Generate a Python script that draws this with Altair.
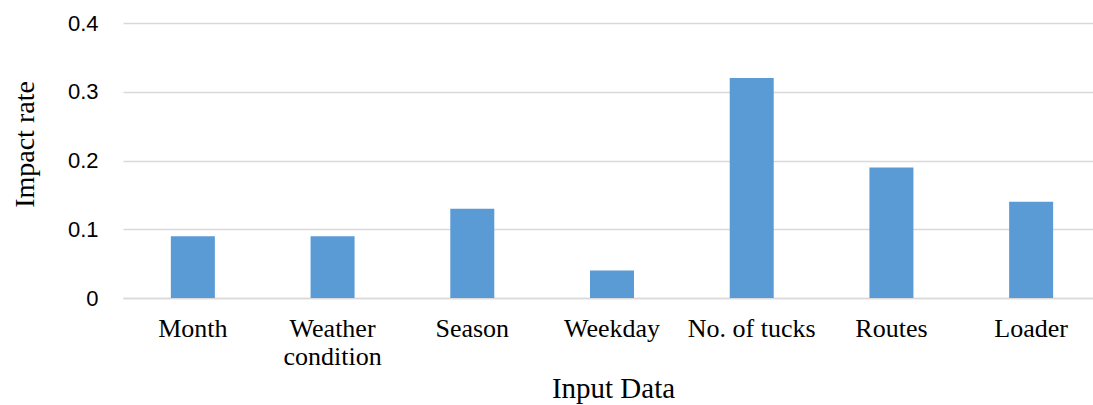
import altair as alt
import pandas as pd

categories = ["Month", "Weather\ncondition", "Season", "Weekday", "No. of tucks", "Routes", "Loader"]
impact = [0.09, 0.09, 0.13, 0.04, 0.32, 0.19, 0.14]
y_ticks = [0, 0.1, 0.2, 0.3, 0.4]

df = pd.DataFrame({"cat": categories, "val": impact})

chart = alt.Chart(df).mark_bar(color="#5B9BD5").encode(
    x=alt.X(
        "cat:N",
        sort=categories,
        scale=alt.Scale(paddingInner=0.685, paddingOuter=0.3425, range=[0, 978]),
        axis=alt.Axis(
            title="Input Data",
            labelAngle=0,
            labelExpr="split(datum.label, '\\n')",
            labelFont="Liberation Serif",
            labelFontSize=26,
            labelColor="#000000",
            labelLineHeight=28,
            labelPadding=17,
            labelBaseline="top",
            ticks=False,
            domain=True,
            domainColor="#D9D9D9",
            domainWidth=1.5,
            titleFont="Liberation Serif",
            titleFontSize=29,
            titleFontWeight="normal",
            titleColor="#000000",
            titleX=490,
            titleY=99,
            titleBaseline="alphabetic",
            titleAlign="center",
        ),
    ),
    y=alt.Y(
        "val:Q",
        scale=alt.Scale(domain=[0, 0.4], nice=False),
        axis=alt.Axis(
            title="Impact rate",
            values=y_ticks,
            labelExpr="datum.value == 0 ? '0' : format(datum.value, '.1f')",
            labelFont="Liberation Sans",
            labelFontSize=22,
            labelColor="#000000",
            labelPadding=25,
            labelBaseline="middle",
            ticks=False,
            domain=False,
            grid=True,
            gridColor="#D9D9D9",
            gridWidth=1.5,
            titleFont="Liberation Serif",
            titleFontSize=28,
            titleFontWeight="normal",
            titleColor="#000000",
            titleX=-98,
            titleY=121,
            titleAngle=-90,
            titleAlign="center",
            titleBaseline="middle",
        ),
    ),
).properties(
    width=970,
    height=275,
    autosize=alt.AutoSizeParams(type="none"),
    padding={"left": 123, "top": 23, "right": 0, "bottom": 107},
).configure(
    background="#FFFFFF",
    view=alt.ViewConfig(stroke=None),
)

chart.save("out.html", embed_options={"renderer": "svg", "actions": False})
